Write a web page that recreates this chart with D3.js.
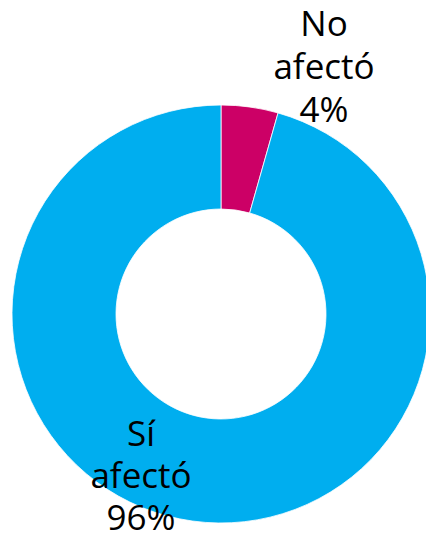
<!DOCTYPE html>
<html>
<head>
<meta charset="utf-8">
<script src="https://cdn.jsdelivr.net/npm/d3@7"></script>
<style>
  html, body { margin: 0; padding: 0; background: #fff; }
  svg { display: block; }
</style>
</head>
<body>
<div id="chart"></div>
<script>
// Data
const categories = ['No afectó', 'Sí afectó'];
const values = [4.4, 95.6];
const colors = ['#CC0066', '#00AEEF'];

const width = 426, height = 539;
const cx = 221, cy = 314;
const outerR = 209, innerR = 105;

const svg = d3.select('#chart')
    .append('svg')
    .attr('width', width)
    .attr('height', height);

const pie = d3.pie().sort(null).value(d => d);
const arc = d3.arc().innerRadius(innerR).outerRadius(outerR);

const g = svg.append('g').attr('transform', `translate(${cx},${cy})`);

g.selectAll('path')
    .data(pie(values))
    .enter().append('path')
    .attr('d', arc)
    .attr('fill', (d, i) => colors[i])
    .attr('stroke', '#fff')
    .attr('stroke-width', 0.8);

// Label positions (hand-placed like the original)
const labelPos = [
    { x: 324, y: 36, gap: 43 },
    { x: 141, y: 446, gap: 42 }
];

svg.append('g')
    .selectAll('text')
    .data(categories)
    .enter().append('text')
    .attr('text-anchor', 'middle')
    .attr('font-family', '"Open Sans", "Noto Sans", sans-serif')
    .attr('font-size', 35)
    .attr('fill', '#000')
    .each(function(d, i) {
        const words = d.split(' ');
        const lines = [words[0], words.slice(1).join(' '), Math.round(values[i]) + '%'];
        const t = d3.select(this);
        lines.forEach((l, k) => {
            t.append('tspan')
                .attr('x', labelPos[i].x)
                .attr('y', labelPos[i].y + k * labelPos[i].gap)
                .text(l);
        });
    });
</script>
</body>
</html>
